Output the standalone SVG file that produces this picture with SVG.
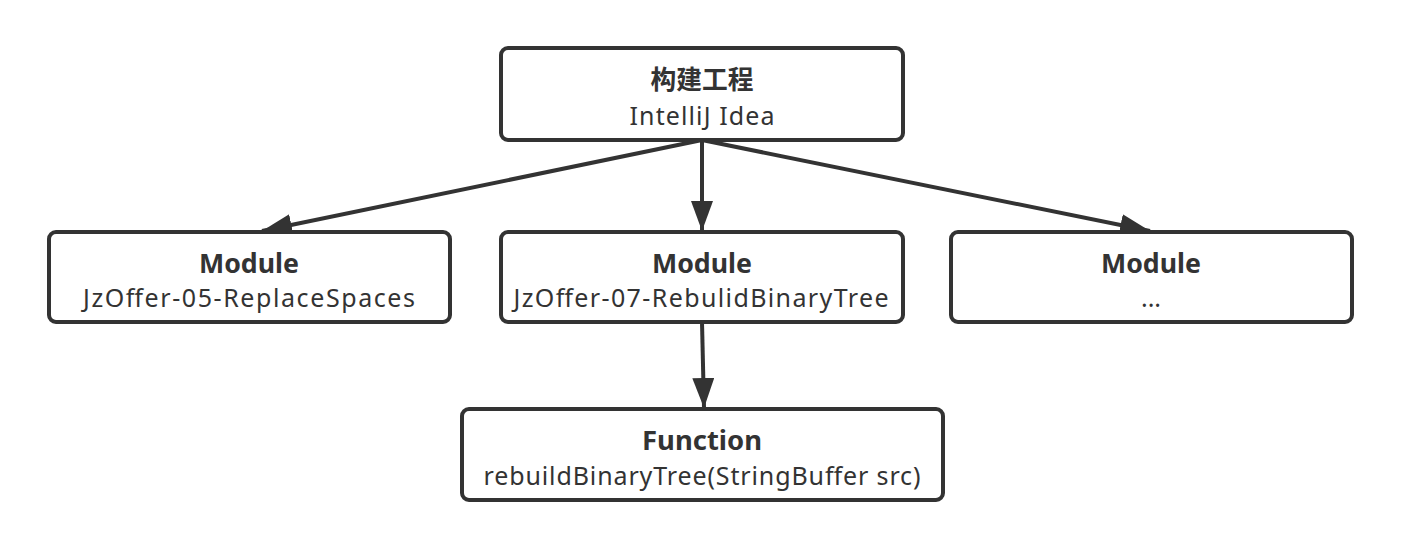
<svg xmlns="http://www.w3.org/2000/svg" width="1402" height="550" viewBox="0 0 1402 550">
<style>
.box{fill:#fff;stroke:#333;stroke-width:4}
.t{font-family:"Noto Sans","Noto Sans CJK SC",sans-serif;font-size:26px;font-weight:bold;fill:#333;text-anchor:middle}
.s{font-family:"Noto Sans","Noto Sans CJK SC",sans-serif;font-size:25px;fill:#333;text-anchor:middle}
.c{stroke:#333;stroke-width:4;fill:none;marker-end:url(#ah)}
</style>
<defs>
<marker id="ah" markerUnits="userSpaceOnUse" markerWidth="32" markerHeight="24" refX="30" refY="11" orient="auto">
<path d="M0,0 L30,11 L0,22 Z" fill="#333"/>
</marker>
</defs>
<rect width="1402" height="550" fill="#fff"/>
<g id="connectors">
<line class="c" x1="702" y1="140" x2="262" y2="231"/>
<line class="c" x1="702" y1="140" x2="702" y2="231"/>
<line class="c" x1="702" y1="140" x2="1150" y2="231"/>
<line class="c" x1="702" y1="322" x2="704" y2="408"/>
</g>
<g id="root">
<rect class="box" x="501" y="48" width="402" height="92" rx="7"/>
<text class="t" x="702" y="89" textLength="103" lengthAdjust="spacingAndGlyphs">构建工程</text>
<text class="s" x="702" y="125" textLength="145" lengthAdjust="spacing">IntelliJ Idea</text>
</g>
<g id="module1">
<rect class="box" x="49" y="232" width="401" height="90" rx="7"/>
<text class="t" x="249" y="273" textLength="100" lengthAdjust="spacingAndGlyphs">Module</text>
<text class="s" x="249" y="307" textLength="332" lengthAdjust="spacing">JzOffer-05-ReplaceSpaces</text>
</g>
<g id="module2">
<rect class="box" x="501" y="232" width="402" height="90" rx="7"/>
<text class="t" x="702" y="273" textLength="100" lengthAdjust="spacingAndGlyphs">Module</text>
<text class="s" x="701" y="307" textLength="375" lengthAdjust="spacing">JzOffer-07-RebulidBinaryTree</text>
</g>
<g id="module3">
<rect class="box" x="951" y="232" width="401" height="90" rx="7"/>
<text class="t" x="1151" y="273" textLength="100" lengthAdjust="spacingAndGlyphs">Module</text>
<text class="s" x="1151" y="307">...</text>
</g>
<g id="function">
<rect class="box" x="462" y="409" width="481" height="91" rx="7"/>
<text class="t" x="702" y="450" textLength="120" lengthAdjust="spacingAndGlyphs">Function</text>
<text class="s" x="702" y="485" textLength="437" lengthAdjust="spacing">rebuildBinaryTree(StringBuffer src)</text>
</g>
</svg>
